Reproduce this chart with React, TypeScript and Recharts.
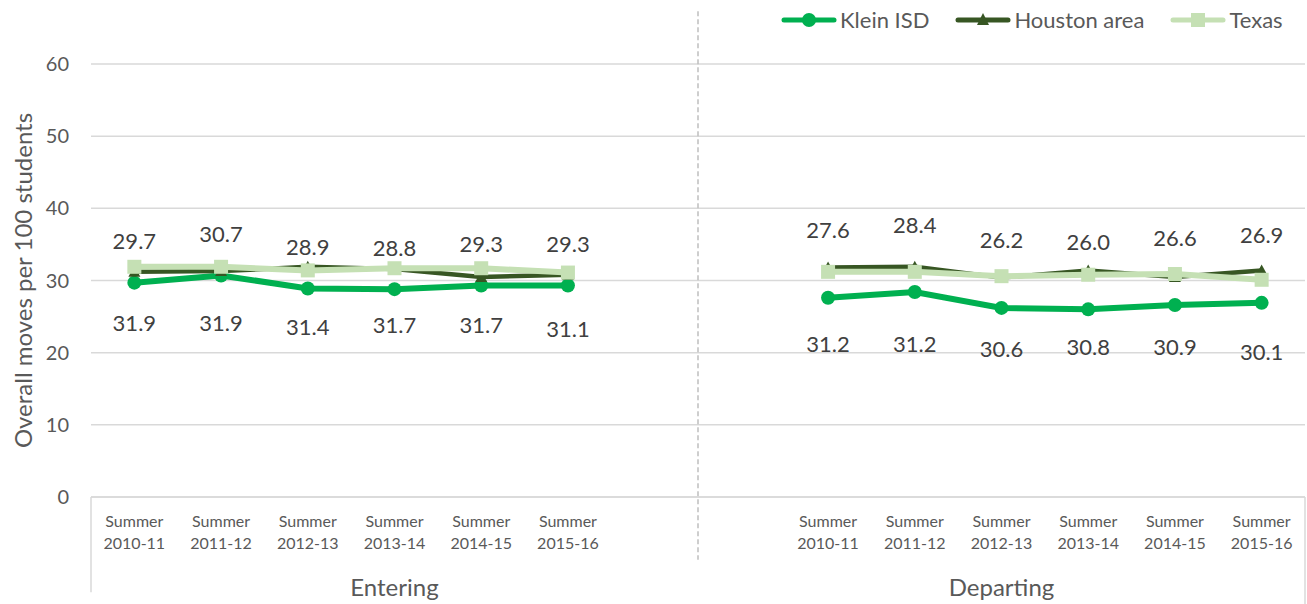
import React from "react";
import {
  CartesianGrid,
  Line,
  LineChart,
  ReferenceLine,
  XAxis,
  YAxis,
} from "recharts";

// categories
const periods = ["2010-11", "2011-12", "2012-13", "2013-14", "2014-15", "2015-16"];
const groups = ["Entering", "Departing"];

// series values, per group
const kleinEntering = [29.7, 30.7, 28.9, 28.8, 29.3, 29.3];
const kleinDeparting = [27.6, 28.4, 26.2, 26.0, 26.6, 26.9];
const houstonEntering = [31.2, 31.3, 31.9, 31.6, 30.5, 30.8];
const houstonDeparting = [31.8, 31.9, 30.4, 31.4, 30.5, 31.4];
const texasEntering = [31.9, 31.9, 31.4, 31.7, 31.7, 31.1];
const texasDeparting = [31.2, 31.2, 30.6, 30.8, 30.9, 30.1];

const yTicks = [0, 10, 20, 30, 40, 50, 60];
const GAP_SLOTS = 2;

const FONT = "Lato, 'Open Sans', sans-serif";
const KLEIN = "#00B050";
const HOUSTON = "#375623";
const TEXAS = "#C5E0B4";
const AXIS_TEXT = "#595959";
const LABEL_TEXT = "#404040";
const GRID = "#d9d9d9";

type Row = {
  idx: number;
  period: string | null;
  group: number;
  klein: number | null;
  houston: number | null;
  texas: number | null;
};

const seriesByGroup = [
  { klein: kleinEntering, houston: houstonEntering, texas: texasEntering },
  { klein: kleinDeparting, houston: houstonDeparting, texas: texasDeparting },
];

const rows: Row[] = [];
seriesByGroup.forEach((s, g) => {
  if (g > 0) {
    for (let k = 0; k < GAP_SLOTS; k++) {
      rows.push({ idx: rows.length, period: null, group: -1, klein: null, houston: null, texas: null });
    }
  }
  periods.forEach((p, i) => {
    rows.push({
      idx: rows.length,
      period: p,
      group: g,
      klein: s.klein[i],
      houston: s.houston[i],
      texas: s.texas[i],
    });
  });
});

const domain: [number, number] = [-0.5, rows.length - 0.5];
const catTicks = rows.filter((r) => r.period).map((r) => r.idx);
const groupSpan = periods.length + GAP_SLOTS / 2;
const groupCenters = groups.map((_, g) => -0.5 + groupSpan * g + groupSpan / 2);
const splitAt = -0.5 + groupSpan;

// label offsets (px) above Klein ISD / below Texas, per group
const kleinLabelDy = [-42, -68];
const texasLabelDy = [56, 72];

const CategoryTick = (props: any) => {
  const { x, y, payload } = props;
  const row = rows[payload.value];
  if (!row || !row.period) return <g />;
  return (
    <text x={x} y={y} textAnchor="middle" fill={AXIS_TEXT} fontSize={16} fontFamily={FONT}>
      <tspan x={x} dy={22}>Summer</tspan>
      <tspan x={x} dy={22}>{row.period}</tspan>
    </text>
  );
};

const GroupTick = (props: any) => {
  const { x, y, payload } = props;
  const g = groupCenters.indexOf(payload.value);
  if (g < 0) return <g />;
  return (
    <text x={x} y={y} dy={36} textAnchor="middle" fill={AXIS_TEXT} fontSize={24} fontFamily={FONT}>
      {groups[g]}
    </text>
  );
};

const makeLabel = (offsets: number[]) => (props: any) => {
  const { x, y, value, index } = props;
  if (value == null || x == null || y == null) return null;
  const g = rows[index]?.group ?? 0;
  return (
    <text
      x={x}
      y={y + offsets[g]}
      textAnchor="middle"
      dominantBaseline="central"
      fill={LABEL_TEXT}
      fontSize={22}
      fontFamily={FONT}
    >
      {Number(value).toFixed(1)}
    </text>
  );
};

const CircleDot = (props: any) => {
  const { cx, cy, key } = props;
  if (cx == null || cy == null) return <g key={key} />;
  return <circle key={key} cx={cx} cy={cy} r={7} fill={KLEIN} />;
};

const TriangleDot = (props: any) => {
  const { cx, cy, key } = props;
  if (cx == null || cy == null) return <g key={key} />;
  return (
    <polygon key={key} points={`${cx},${cy - 6} ${cx + 6},${cy + 5} ${cx - 6},${cy + 5}`} fill={HOUSTON} />
  );
};

const SquareDot = (props: any) => {
  const { cx, cy, key } = props;
  if (cx == null || cy == null) return <g key={key} />;
  return <rect key={key} x={cx - 7} y={cy - 7} width={14} height={14} fill={TEXAS} />;
};

const legendItems = [
  { name: "Klein ISD", color: KLEIN, marker: "circle" },
  { name: "Houston area", color: HOUSTON, marker: "triangle" },
  { name: "Texas", color: TEXAS, marker: "square" },
];

const LegendIcon = ({ color, marker }: { color: string; marker: string }) => (
  <svg width={56} height={20} style={{ display: "block" }}>
    <line x1={3} y1={10} x2={53} y2={10} stroke={color} strokeWidth={5} strokeLinecap="round" />
    {marker === "circle" && <circle cx={28} cy={10} r={7} fill={color} />}
    {marker === "triangle" && <polygon points="28,3 34,15 22,15" fill={color} />}
    {marker === "square" && <rect x={21} y={3} width={14} height={14} fill={color} />}
  </svg>
);

export default function App() {
  return (
    <div style={{ position: "absolute", left: 0, top: 0, width: 1307, height: 604, background: "#fff" }}>
      <LineChart
        width={1307}
        height={604}
        data={rows}
        margin={{ top: 64, right: 2, left: 0, bottom: 0 }}
      >
        <CartesianGrid vertical={false} stroke={GRID} strokeWidth={1.5} />
        <XAxis
          dataKey="idx"
          type="number"
          domain={domain}
          ticks={catTicks}
          interval={0}
          tick={<CategoryTick />}
          tickLine={false}
          axisLine={{ stroke: GRID, strokeWidth: 1.5 }}
          height={55}
        />
        <XAxis
          xAxisId="grp"
          dataKey="idx"
          type="number"
          domain={domain}
          ticks={groupCenters}
          interval={0}
          tick={<GroupTick />}
          tickLine={false}
          axisLine={false}
          height={52}
        />
        <YAxis
          domain={[0, 60]}
          ticks={yTicks}
          interval={0}
          axisLine={false}
          tickLine={false}
          width={91}
          tickMargin={16}
          tick={{ fontSize: 20, fill: AXIS_TEXT, fontFamily: FONT }}
          label={{
            content: (p: any) => {
              const vb = p.viewBox || { x: 0, y: 64, width: 91, height: 433 };
              const cx = vb.x + 22;
              const cy = vb.y + vb.height / 2;
              return (
                <text
                  x={cx}
                  y={cy}
                  transform={`rotate(-90, ${cx}, ${cy})`}
                  textAnchor="middle"
                  dominantBaseline="central"
                  fill={AXIS_TEXT}
                  fontSize={24}
                  fontFamily={FONT}
                >
                  Overall moves per 100 students
                </text>
              );
            },
          }}
        />
        <ReferenceLine
          segment={[{ x: splitAt, y: 67.3 }, { x: splitAt, y: -8.7 }]}
          stroke="#bfbfbf"
          strokeWidth={1.5}
          strokeDasharray="5 3"
          ifOverflow="visible"
        />
        <ReferenceLine
          segment={[{ x: domain[0], y: 0 }, { x: domain[0], y: -13.2 }]}
          stroke={GRID}
          strokeWidth={1.5}
          ifOverflow="visible"
        />
        <ReferenceLine
          segment={[{ x: domain[1], y: 0 }, { x: domain[1], y: -15 }]}
          stroke={GRID}
          strokeWidth={1.5}
          ifOverflow="visible"
        />
        <Line
          dataKey="klein"
          name="Klein ISD"
          stroke={KLEIN}
          strokeWidth={6}
          dot={CircleDot}
          activeDot={false}
          label={makeLabel(kleinLabelDy)}
          isAnimationActive={false}
        />
        <Line
          dataKey="houston"
          name="Houston area"
          stroke={HOUSTON}
          strokeWidth={4.5}
          dot={TriangleDot}
          activeDot={false}
          isAnimationActive={false}
        />
        <Line
          dataKey="texas"
          name="Texas"
          stroke={TEXAS}
          strokeWidth={6}
          dot={SquareDot}
          activeDot={false}
          label={makeLabel(texasLabelDy)}
          isAnimationActive={false}
        />
      </LineChart>
      <div
        style={{
          position: "absolute",
          top: 8,
          left: 781,
          display: "flex",
          alignItems: "center",
          gap: 26,
          fontFamily: FONT,
          fontSize: 22,
          color: AXIS_TEXT,
          lineHeight: "24px",
        }}
      >
        {legendItems.map((it) => (
          <div key={it.name} style={{ display: "flex", alignItems: "center", gap: 3 }}>
            <LegendIcon color={it.color} marker={it.marker} />
            <span>{it.name}</span>
          </div>
        ))}
      </div>
    </div>
  );
}
